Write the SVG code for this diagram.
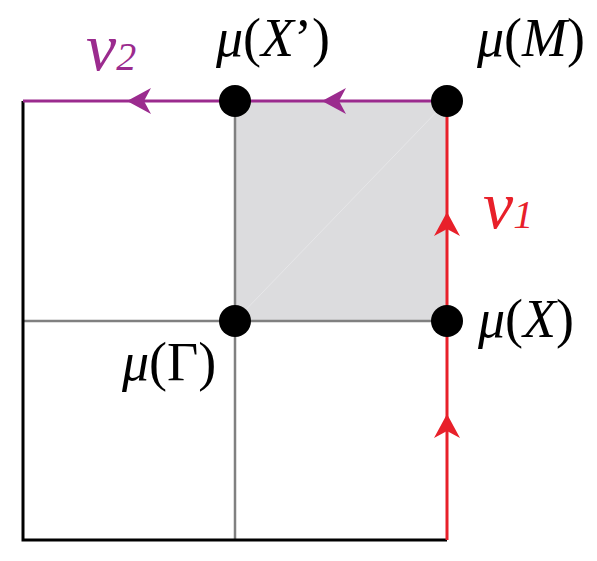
<svg xmlns="http://www.w3.org/2000/svg" width="597" height="561" viewBox="0 0 597 561">
<style>
.lbl{font-family:"Liberation Serif","Times New Roman",serif;font-size:54px;fill:#000}
.it{font-style:italic}
.dot{fill:#000}
.grid{stroke:#808080;stroke-width:2.5;fill:none}
.vl{font-family:"Liberation Serif","Times New Roman",serif;font-style:italic;font-size:68px}
.sub{font-size:40px}
</style>
<defs>
<path id="ahL" d="M0,0 L24,-13 L17,0 L24,13 Z"/>
</defs>
<rect x="0" y="0" width="597" height="561" fill="#fff"/>
<g id="cell">
<rect x="235" y="101" width="212" height="220" fill="#dcdcde"/>
<line x1="235" y1="321" x2="447" y2="101" stroke="#e6e6e8" stroke-width="1"/>
</g>
<g id="connectors">
<line class="grid" x1="235" y1="101" x2="235" y2="540"/>
<line class="grid" x1="23" y1="321" x2="447" y2="321"/>
<polyline points="23,101 23,540 447,540" fill="none" stroke="#000" stroke-width="3"/>
<line x1="23" y1="101" x2="447" y2="101" stroke="#9b2b8e" stroke-width="3"/>
<line x1="447" y1="101" x2="447" y2="540" stroke="#e8202a" stroke-width="3"/>
<use href="#ahL" x="127" y="101" fill="#9b2b8e"/>
<use href="#ahL" x="322" y="101" fill="#9b2b8e"/>
<use href="#ahL" transform="translate(447,212) rotate(90)" fill="#e8202a"/>
<use href="#ahL" transform="translate(447,414) rotate(90)" fill="#e8202a"/>
</g>
<g id="node-Xp"><circle class="dot" cx="235" cy="101" r="16"/><text class="lbl" x="216" y="56"><tspan class="it">μ</tspan>(<tspan class="it">X</tspan>’)</text></g>
<g id="node-M"><circle class="dot" cx="447" cy="101" r="16"/><text class="lbl" x="477" y="56"><tspan class="it">μ</tspan>(<tspan class="it">M</tspan>)</text></g>
<g id="node-G"><circle class="dot" cx="235" cy="321" r="16"/><text class="lbl" x="122" y="380"><tspan class="it">μ</tspan>(Γ)</text></g>
<g id="node-X"><circle class="dot" cx="447" cy="321" r="16"/><text class="lbl" x="478" y="337"><tspan class="it">μ</tspan>(<tspan class="it">X</tspan>)</text></g>
<g id="label-v2"><text class="vl" x="86" y="70" fill="#9b2b8e">v<tspan class="sub">2</tspan></text></g>
<g id="label-v1"><text class="vl" x="483" y="228" fill="#e8202a">v<tspan class="sub">1</tspan></text></g>
</svg>
